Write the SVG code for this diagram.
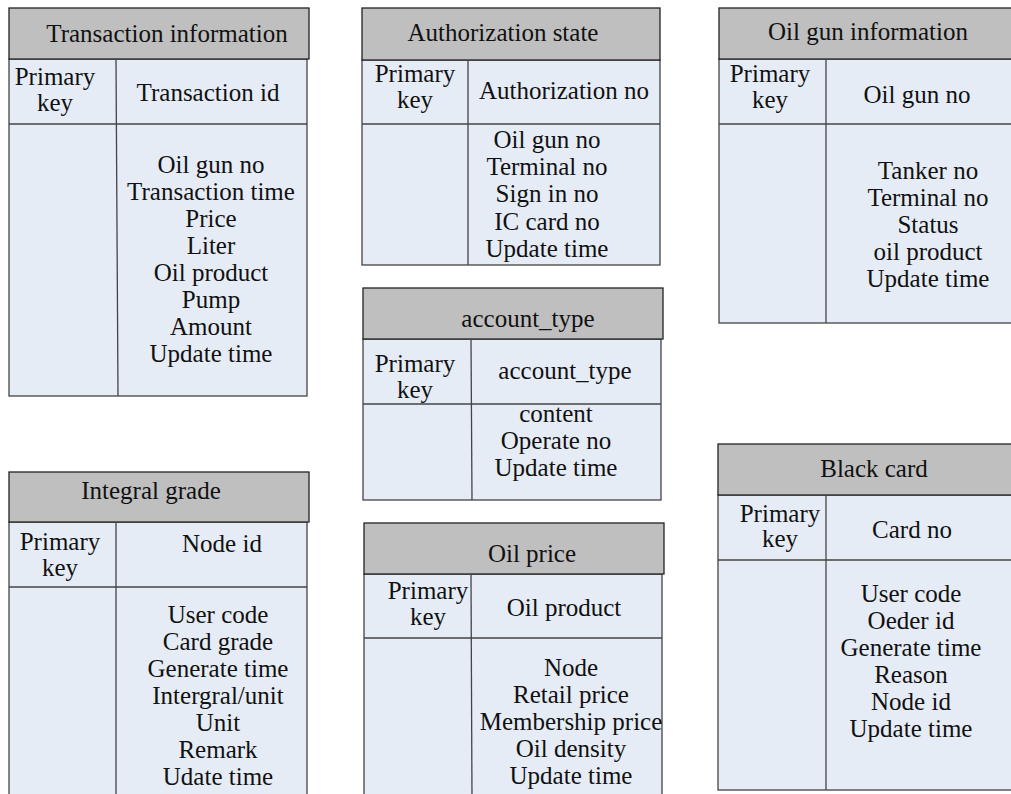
<svg xmlns="http://www.w3.org/2000/svg" width="1011" height="794" viewBox="0 0 1011 794">
<style>
.hd{fill:#bfbfbf;stroke:#222;stroke-width:1.3}
.bd{fill:#e6ecf6;stroke:#444;stroke-width:1.3}
.ln{stroke:#444;stroke-width:1.3;fill:none}
text{font-family:"Liberation Serif","Times New Roman",serif;font-size:25px;fill:#111;text-anchor:middle}
</style>
<rect width="1011" height="794" fill="#ffffff"/>

<g id="transaction-information">
<rect class="bd" x="9" y="59" width="298" height="337"/>
<rect class="hd" x="9" y="8" width="300" height="51"/>
<line class="ln" x1="9" y1="124" x2="307" y2="124"/>
<line class="ln" x1="116" y1="59" x2="118" y2="396"/>
<text x="167" y="42">Transaction information</text>
<text x="55" y="85">Primary</text>
<text x="55" y="111">key</text>
<text x="208" y="101">Transaction id</text>
<text x="211" y="173">Oil gun no<tspan x="211" dy="27">Transaction time</tspan><tspan x="211" dy="27">Price</tspan><tspan x="211" dy="27">Liter</tspan><tspan x="211" dy="27">Oil product</tspan><tspan x="211" dy="27">Pump</tspan><tspan x="211" dy="27">Amount</tspan><tspan x="211" dy="27">Update time</tspan></text>
</g>

<g id="authorization-state">
<rect class="bd" x="362" y="60" width="298" height="205"/>
<rect class="hd" x="362" y="8" width="298" height="52"/>
<line class="ln" x1="362" y1="124" x2="660" y2="124"/>
<line class="ln" x1="468" y1="60" x2="468" y2="265"/>
<text x="503" y="41">Authorization state</text>
<text x="415" y="82">Primary</text>
<text x="415" y="108">key</text>
<text x="564" y="99">Authorization no</text>
<text x="547" y="148">Oil gun no<tspan x="547" dy="27.2">Terminal no</tspan><tspan x="547" dy="27.2">Sign in no</tspan><tspan x="547" dy="27.2">IC card no</tspan><tspan x="547" dy="27.2">Update time</tspan></text>
</g>

<g id="oil-gun-information">
<rect class="bd" x="719" y="59" width="300" height="264"/>
<rect class="hd" x="719" y="8" width="302" height="51"/>
<line class="ln" x1="719" y1="124" x2="1011" y2="124"/>
<line class="ln" x1="826" y1="59" x2="826" y2="323"/>
<text x="868" y="40">Oil gun information</text>
<text x="770" y="82">Primary</text>
<text x="770" y="108">key</text>
<text x="917" y="103">Oil gun no</text>
<text x="928" y="179">Tanker  no<tspan x="928" dy="27">Terminal no</tspan><tspan x="928" dy="27">Status</tspan><tspan x="928" dy="27">oil product</tspan><tspan x="928" dy="27">Update time</tspan></text>
</g>

<g id="account-type">
<rect class="bd" x="363" y="339" width="298" height="161"/>
<rect class="hd" x="363" y="288" width="300" height="51"/>
<line class="ln" x1="363" y1="404" x2="661" y2="404"/>
<line class="ln" x1="471" y1="339" x2="472" y2="500"/>
<text x="528" y="327">account_type</text>
<text x="415" y="372">Primary</text>
<text x="415" y="398">key</text>
<text x="565" y="379">account_type</text>
<text x="556" y="422">content<tspan x="556" dy="27">Operate no</tspan><tspan x="556" dy="27">Update time</tspan></text>
</g>

<g id="integral-grade">
<rect class="bd" x="9" y="522" width="298" height="290"/>
<rect class="hd" x="9" y="472" width="300" height="50"/>
<line class="ln" x1="9" y1="587" x2="307" y2="587"/>
<line class="ln" x1="116" y1="522" x2="116" y2="800"/>
<text x="151" y="499">Integral grade</text>
<text x="60" y="550">Primary</text>
<text x="60" y="576">key</text>
<text x="222" y="552">Node id</text>
<text x="218" y="623">User code<tspan x="218" dy="27">Card grade</tspan><tspan x="218" dy="27">Generate time</tspan><tspan x="218" dy="27">Intergral/unit</tspan><tspan x="218" dy="27">Unit</tspan><tspan x="218" dy="27">Remark</tspan><tspan x="218" dy="27">Udate time</tspan></text>
</g>

<g id="oil-price">
<rect class="bd" x="364" y="574" width="298" height="240"/>
<rect class="hd" x="364" y="523" width="300" height="51"/>
<line class="ln" x1="364" y1="638" x2="662" y2="638"/>
<line class="ln" x1="471" y1="574" x2="472" y2="800"/>
<text x="532" y="562">Oil price</text>
<text x="428" y="599">Primary</text>
<text x="428" y="625">key</text>
<text x="564" y="616">Oil product</text>
<text x="571" y="676">Node<tspan x="571" dy="27">Retail price</tspan><tspan x="571" dy="27">Membership price</tspan><tspan x="571" dy="27">Oil density</tspan><tspan x="571" dy="27">Update time</tspan></text>
</g>

<g id="black-card">
<rect class="bd" x="718" y="495" width="302" height="295"/>
<rect class="hd" x="718" y="444" width="304" height="51"/>
<line class="ln" x1="718" y1="560" x2="1011" y2="560"/>
<line class="ln" x1="826" y1="495" x2="826" y2="790"/>
<text x="874" y="477">Black card</text>
<text x="780" y="522">Primary</text>
<text x="780" y="547">key</text>
<text x="912" y="538">Card no</text>
<text x="911" y="602">User code<tspan x="911" dy="27">Oeder id</tspan><tspan x="911" dy="27">Generate time</tspan><tspan x="911" dy="27">Reason</tspan><tspan x="911" dy="27">Node id</tspan><tspan x="911" dy="27">Update time</tspan></text>
</g>
</svg>
